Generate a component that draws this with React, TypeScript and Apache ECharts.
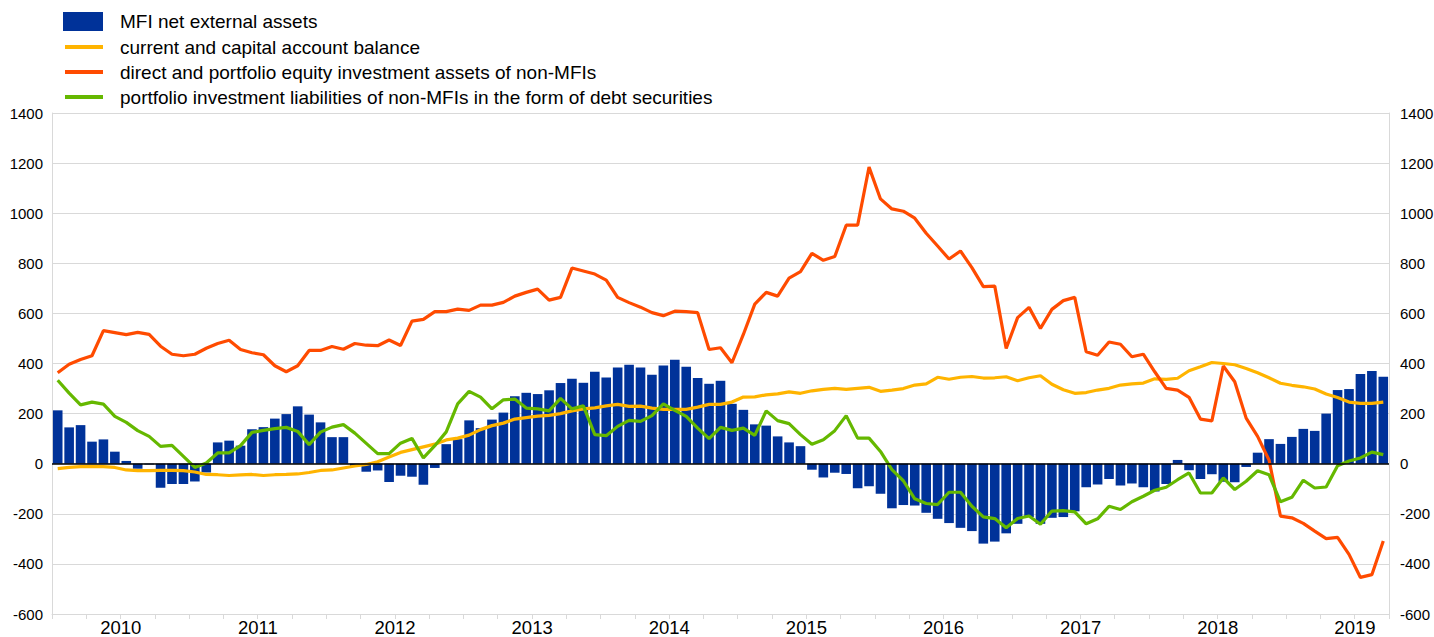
import React, { useEffect, useRef } from "react";
import * as echarts from "echarts";

// Monthly categories, Jan 2010 - Sep 2019
const months: string[] = [];
for (let y = 2010; y <= 2019; y++) {
  for (let m = 1; m <= 12; m++) {
    if (y === 2019 && m > 9) break;
    months.push(`${y}-${String(m).padStart(2, "0")}`);
  }
}

const seriesNames = [
  "MFI net external assets",
  "current and capital account balance",
  "direct and portfolio equity investment assets of non-MFIs",
  "portfolio investment liabilities of non-MFIs in the form of debt securities",
];

const mfiNetExternalAssets = [
  213, 145, 154, 88, 97, 48, 11, -20, -3, -96, -81, -81,
  -71, -35, 85, 92, 72, 138, 146, 180, 198, 229, 196, 165,
  106, 106, -10, -32, -27, -73, -48, -52, -84, -17, 78, 98,
  173, 142, 176, 204, 269, 283, 278, 293, 322, 339, 323, 367,
  344, 384, 395, 384, 355, 392, 415, 387, 342, 319, 331, 239,
  215, 157, 152, 109, 85, 70, -24, -55, -36, -41, -98, -90,
  -120, -178, -165, -167, -196, -220, -237, -256, -269, -319, -311, -278,
  -240, -213, -240, -216, -213, -190, -94, -83, -61, -87, -79, -94,
  -111, -81, 15, -26, -61, -42, -72, -74, -13, 44, 98, 79,
  107, 139, 131, 200, 294, 298, 358, 370, 347,
];

const currentCapitalAccount = [
  -20, -15, -12, -11, -12, -15, -25, -28, -28, -27, -27, -28,
  -33, -43, -44, -47, -45, -43, -47, -44, -43, -41, -35, -27,
  -25, -17, -9, -3, 8, 27, 45, 56, 67, 78, 95, 102,
  114, 136, 152, 162, 178, 184, 190, 193, 200, 211, 219, 223,
  231, 237, 229, 230, 222, 217, 217, 217, 226, 237, 237, 246,
  266, 267, 275, 279, 287, 281, 291, 297, 301, 297, 301, 305,
  289, 294, 300, 314, 319, 345, 337, 345, 348, 342, 343, 347,
  331, 343, 351, 317, 295, 281, 284, 294, 301, 314, 319, 322,
  339, 337, 341, 371, 387, 404, 400, 395, 380, 363, 343, 321,
  313, 307, 298, 278, 264, 246, 241, 241, 246,
];

const equityAssetsNonMFI = [
  363, 397, 416, 431, 531, 523, 515, 524, 516, 469, 437, 431,
  437, 461, 480, 493, 456, 443, 435, 391, 367, 391, 452, 452,
  468, 457, 480, 473, 471, 494, 472, 569, 576, 607, 607, 617,
  612, 633, 633, 644, 669, 684, 697, 653, 664, 781, 769, 757,
  733, 664, 643, 625, 603, 591, 609, 607, 603, 456, 463, 403,
  516, 637, 684, 669, 741, 767, 840, 812, 827, 952, 952, 1184,
  1057, 1017, 1008, 980, 920, 869, 817, 849, 783, 707, 709, 460,
  583, 624, 540, 616, 651, 664, 447, 433, 486, 477, 427, 437,
  367, 301, 294, 265, 178, 171, 390, 327, 182, 109, 15, -209,
  -216, -238, -269, -299, -294, -362, -454, -443, -309,
];

const debtLiabilitiesNonMFI = [
  333, 282, 235, 246, 238, 189, 165, 132, 109, 69, 73, 29,
  -15, 3, 43, 43, 72, 125, 133, 140, 145, 129, 76, 126,
  146, 156, 122, 81, 40, 40, 82, 101, 23, 72, 127, 239,
  289, 266, 219, 255, 258, 222, 219, 211, 261, 219, 231, 116,
  112, 149, 173, 169, 192, 239, 213, 189, 142, 100, 145, 133,
  142, 113, 211, 172, 160, 116, 78, 96, 132, 192, 102, 102,
  49, -24, -68, -140, -159, -163, -114, -114, -170, -212, -219, -256,
  -219, -209, -242, -189, -187, -192, -240, -220, -170, -183, -152, -130,
  -106, -94, -64, -37, -117, -117, -57, -103, -70, -28, -44, -152,
  -134, -66, -97, -93, -8, 11, 23, 46, 36,
];

const yMin = -600;
const yMax = 1400;
const yInterval = 200;

const COLORS = ["#003299", "#FFB400", "#FF4B00", "#65B800"];
const FONT = "'Liberation Sans', Arial, Helvetica, sans-serif";
const GRID = "#d9d9d9";

export default function App() {
  const ref = useRef<HTMLDivElement>(null);

  useEffect(() => {
    if (!ref.current) return;
    const chart = echarts.init(ref.current, undefined, { renderer: "svg" });

    const yAxisBase = {
      type: "value",
      min: yMin,
      max: yMax,
      interval: yInterval,
      axisLine: { show: true, lineStyle: { color: GRID, width: 1 } },
      axisTick: { show: false },
    };

    const lineSeries = (name: string, data: number[], color: string) => ({
      name,
      type: "line",
      data,
      symbol: "none",
      showSymbol: false,
      lineStyle: { color, width: 3.2 },
      itemStyle: { color },
      z: 3,
    });

    const option: any = {
      animation: false,
      textStyle: { fontFamily: FONT },
      grid: {
        left: 52,
        right: 45,
        top: 113,
        bottom: 23,
        containLabel: false,
        outerBoundsMode: "none",
      },
      legend: [
        {
          data: [seriesNames[0]],
          left: 63,
          top: 12,
          padding: 0,
          itemWidth: 40,
          itemHeight: 19,
          icon: "rect",
          textStyle: { fontSize: 19, color: "#000", fontFamily: FONT, padding: [0, 0, 0, 12] },
        },
        {
          data: seriesNames.slice(1),
          orient: "vertical",
          left: 65,
          top: 37,
          padding: 0,
          itemWidth: 38,
          itemHeight: 4,
          itemGap: 5,
          icon: "rect",
          textStyle: { fontSize: 19, lineHeight: 20, color: "#000", fontFamily: FONT, padding: [0, 0, 0, 12] },
        },
      ],
      xAxis: {
        type: "category",
        data: months,
        boundaryGap: true,
        axisLine: { show: true, onZero: false, lineStyle: { color: GRID } },
        axisTick: {
          show: true,
          interval: (i: number) => i % 3 === 0,
          length: 5,
          lineStyle: { color: GRID },
        },
        axisLabel: {
          interval: (i: number) => i % 12 === 6,
          formatter: (v: string) => `{a|${v.slice(0, 4)}}`,
          margin: 4,
          rich: {
            a: { fontSize: 18.5, color: "#000", fontFamily: FONT, padding: [0, 11, 0, 0] },
          },
        },
        splitLine: { show: false },
      },
      yAxis: [
        {
          ...yAxisBase,
          position: "left",
          axisLabel: {
            fontSize: 15,
            color: "#000",
            margin: 9,
            fontFamily: FONT,
            formatter: (v: number) => String(v),
          },
          splitLine: { show: true, lineStyle: { color: GRID, width: 1 } },
        },
        {
          ...yAxisBase,
          position: "right",
          axisLabel: {
            fontSize: 15,
            color: "#000",
            margin: 11,
            fontFamily: FONT,
            formatter: (v: number) => String(v),
          },
          splitLine: { show: false },
        },
      ],
      series: [
        {
          name: seriesNames[0],
          type: "bar",
          data: mfiNetExternalAssets,
          barCategoryGap: "16%",
          itemStyle: { color: COLORS[0] },
          z: 2,
          markLine: {
            silent: true,
            symbol: "none",
            label: { show: false },
            lineStyle: { color: "#000", width: 1.5, type: "solid" },
            data: [{ yAxis: 0 }],
          },
        },
        lineSeries(seriesNames[1], currentCapitalAccount, COLORS[1]),
        lineSeries(seriesNames[2], equityAssetsNonMFI, COLORS[2]),
        lineSeries(seriesNames[3], debtLiabilitiesNonMFI, COLORS[3]),
      ],
    };

    chart.setOption(option);
    return () => chart.dispose();
  }, []);

  return (
    <div
      ref={ref}
      style={{ position: "absolute", left: 0, top: 0, width: 1434, height: 637, background: "#fff" }}
    />
  );
}
